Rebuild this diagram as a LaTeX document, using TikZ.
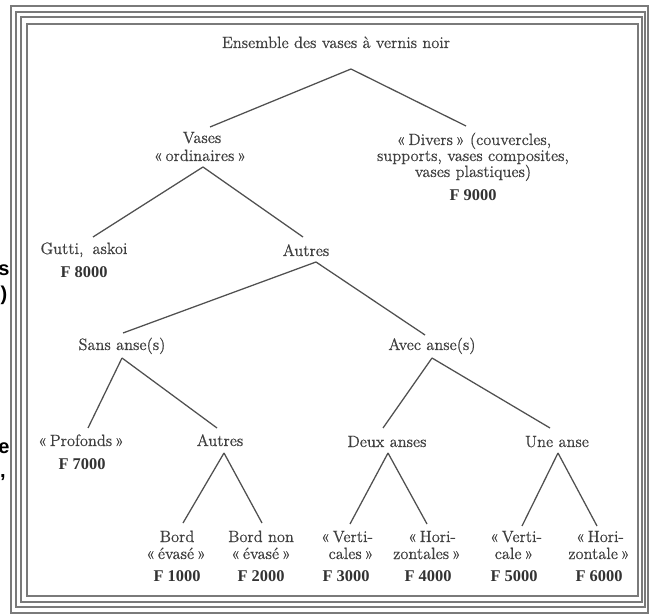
\documentclass[tikz,border=0pt]{standalone}
\usepackage{fontspec}
\newfontfamily\fragfont{Liberation Sans}
\newfontfamily\numfont{Liberation Serif}
\newfontfamily\bodyfont{Latin Modern Roman}[FakeBold=0.6]
\usetikzlibrary{calc}
\definecolor{ink}{HTML}{404040}
\definecolor{inkb}{HTML}{333333}
\definecolor{edge}{HTML}{505050}
\definecolor{framec}{HTML}{7A7A7A}
\newcommand{\gql}{«\,}
\newcommand{\gqr}{\,»}
\begin{document}
\begin{tikzpicture}[x=0.75pt,y=-0.75pt,
  lbl/.style={font=\bodyfont\fontsize{12.3}{14}\selectfont, text=ink, inner sep=0pt, outer sep=0pt, anchor=base},
  num/.style={lbl, font=\numfont\bfseries\fontsize{12.3}{14}\selectfont, text=inkb},
  conn/.style={draw=edge, line width=0.95pt},
  box/.style={draw=framec, line width=0.8pt},
  frag/.style={font=\fragfont\bfseries\fontsize{15}{17}\selectfont, text=black, inner sep=0pt, anchor=base}
]
\useasboundingbox (0,0) rectangle (653,616);
% frame
\draw[box] (11,6) rectangle (648,613);
\draw[box] (16,12) rectangle (645,607);
\draw[box] (21,17) rectangle (642,602);
\draw[box] (27,24) rectangle (638,596);
% fragments of the neighbouring page
\node[frag] (fs) at (4,276) {s};
\node[frag] (fp) at (4,301) {)};
\node[frag] (fe) at (4,453) {e};
\node[frag] (fc) at (3,477) {,};
% nodes
\node[lbl] (root) at (336,48) {Ensemble des vases à vernis noir};
\node[lbl] (vases) at (202,143) {Vases};
\node[lbl] (vasesb) at (200,161) {\gql ordinaires\gqr};
\node[lbl] (divers) at (474,145) {\gql Divers\gqr{} (couvercles,};
\node[lbl] (diversb) at (473,161) {supports, vases composites,};
\node[lbl] (diversc) at (473,177) {vases plastiques)};
\node[num] (diversf) at (473,201) {F 9000};
\node[lbl] (gutti) at (84,254) {Gutti,\hspace{0.55em}askoi};
\node[num] (guttif) at (84,278) {F 8000};
\node[lbl] (autresA) at (306,256) {Autres};
\node[lbl] (sans) at (122,350) {Sans anse(s)};
\node[lbl] (avec) at (432,350) {Avec anse(s)};
\node[lbl] (profonds) at (81,446) {\gql Profonds\gqr};
\node[num] (profondsf) at (82,469) {F 7000};
\node[lbl] (autresB) at (220,446) {Autres};
\node[lbl] (deux) at (387,447) {Deux anses};
\node[lbl] (une) at (557,447) {Une anse};
\node[lbl] (bord) at (177,542) {Bord};
\node[lbl] (bordb) at (176,559) {\gql évasé\gqr};
\node[num] (bordf) at (177,581) {F 1000};
\node[lbl] (bordnon) at (261,542) {Bord non};
\node[lbl] (bordnonb) at (261,559) {\gql évasé\gqr};
\node[num] (bordnonf) at (261,581) {F 2000};
\node[lbl] (vertis) at (347,542) {\gql Verti-};
\node[lbl] (vertisb) at (351,559) {cales\gqr};
\node[num] (vertisf) at (346,581) {F 3000};
\node[lbl] (horis) at (432,542) {\gql Hori-};
\node[lbl] (horisb) at (427,559) {zontales\gqr};
\node[num] (horisf) at (428,581) {F 4000};
\node[lbl] (verti) at (516,542) {\gql Verti-};
\node[lbl] (vertib) at (514,559) {cale\gqr};
\node[num] (vertif) at (514,581) {F 5000};
\node[lbl] (hori) at (600,542) {\gql Hori-};
\node[lbl] (horib) at (599,559) {zontale\gqr};
\node[num] (horif) at (599,581) {F 6000};
% connectors
\draw[conn] ($(root.base)+(15,21)$) -- ($(vases.base)+(8,-16)$);
\draw[conn] ($(root.base)+(15,21)$) -- ($(divers.base)+(-8,-19)$);
\draw[conn] ($(vasesb.base)+(3,6)$) -- ($(gutti.base)+(9,-17)$);
\draw[conn] ($(vasesb.base)+(3,6)$) -- ($(autresA.base)+(-3,-19)$);
\draw[conn] ($(autresA.base)+(10,6)$) -- ($(sans.base)+(1,-17)$);
\draw[conn] ($(autresA.base)+(10,6)$) -- ($(avec.base)+(-7,-15)$);
\draw[conn] ($(sans.base)+(0,8)$) -- ($(profonds.base)+(7,-18)$);
\draw[conn] ($(sans.base)+(0,8)$) -- ($(autresB.base)+(-3,-18)$);
\draw[conn] ($(avec.base)+(0,8)$) -- ($(deux.base)+(-4,-19)$);
\draw[conn] ($(avec.base)+(0,8)$) -- ($(une.base)+(-7,-19)$);
\draw[conn] ($(autresB.base)+(4,7)$) -- ($(bord.base)+(6,-19)$);
\draw[conn] ($(autresB.base)+(4,7)$) -- ($(bordnon.base)+(1,-19)$);
\draw[conn] ($(deux.base)+(1,6)$) -- ($(vertis.base)+(3,-18)$);
\draw[conn] ($(deux.base)+(1,6)$) -- ($(horis.base)+(-5,-18)$);
\draw[conn] ($(une.base)+(1,6)$) -- ($(verti.base)+(6,-16)$);
\draw[conn] ($(une.base)+(1,6)$) -- ($(hori.base)+(-3,-16)$);
\end{tikzpicture}
\end{document}
